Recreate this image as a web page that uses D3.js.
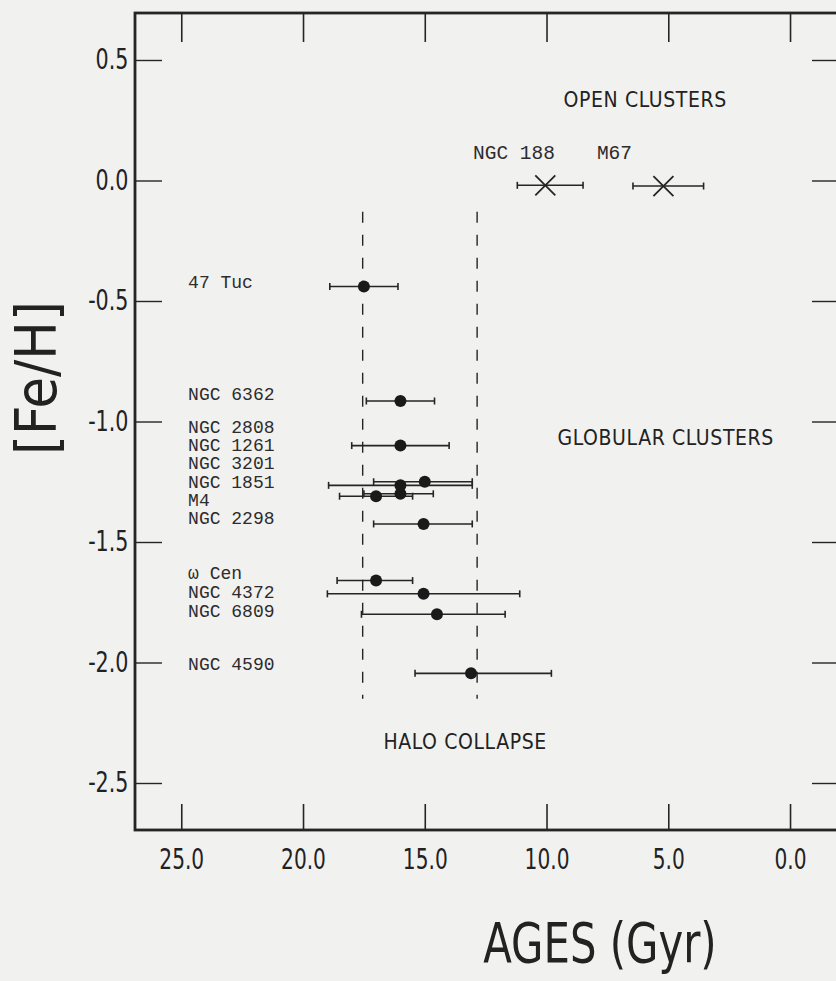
<!DOCTYPE html>
<html lang="en">
  <head>
    <meta charset="UTF-8" />
    <title>Ages vs [Fe/H]</title>
    <style>
      body { margin: 0; background: #f1f1f0; }
      svg { display: block; }
      .cond { font-family: "Liberation Sans Narrow", "DejaVu Sans Condensed", "DejaVu Sans", sans-serif; font-stretch: condensed; fill: #222; }
      .type { font-family: "Liberation Mono", "Courier New", monospace; fill: #2c2c2c; }
    </style>
  </head>
  <body>
    <div id="wrapper"></div>
    <script src="https://d3js.org/d3.v7.min.js"></script>
    <script>
      // tick values
      var xTicks = [25, 20, 15, 10, 5, 0];
      var yTicks = [0.5, 0, -0.5, -1.0, -1.5, -2.0, -2.5];

      // open clusters (X markers): age, [Fe/H], age range
      var openNames = ["NGC 188", "M67"];
      var openAge   = [10.05, 5.2];
      var openFeh   = [-0.02, -0.023];
      var openLo    = [11.2, 6.45];
      var openHi    = [8.5, 3.55];

      // globular clusters (dots)
      var globAge = [17.5, 16.0, 16.0, 15.0, 16.0, 16.0, 17.0, 15.05, 17.0, 15.05, 14.5, 13.1];
      var globFeh = [-0.44, -0.915, -1.10, -1.25, -1.265, -1.30, -1.31, -1.425, -1.66, -1.715, -1.80, -2.045];
      var globLo  = [18.9, 17.4, 18.0, 17.1, 18.95, 17.5, 18.5, 17.1, 18.6, 19.0, 17.6, 15.4];
      var globHi  = [16.1, 14.6, 14.0, 13.05, 13.05, 14.65, 15.5, 13.05, 15.5, 11.1, 11.7, 9.8];

      // cluster name list on the left, with the [Fe/H] level each line sits at
      var globNames = ["47 Tuc", "NGC 6362", "NGC 2808", "NGC 1261", "NGC 3201", "NGC 1851", "M4",
                       "NGC 2298", "\u03c9 Cen", "NGC 4372", "NGC 6809", "NGC 4590"];
      var globNameFeh = [-0.421, -0.886, -1.023, -1.097, -1.172, -1.251, -1.326,
                         -1.400, -1.629, -1.708, -1.783, -2.006];

      // halo collapse limits
      var haloAges = [17.55, 12.85];
      var haloFeh  = [-0.13, -2.15];

      var width = 836, height = 981;

      var x = d3.scaleLinear().domain([26.9, -1.97]).range([135, 838]);
      var y = d3.scaleLinear().domain([0.695, -2.695]).range([13, 830]);

      var svg = d3.select("#wrapper").append("svg")
          .attr("width", width)
          .attr("height", height);

      var ink = "#252525";

      // frame
      svg.append("rect")
          .attr("x", x.range()[0]).attr("y", y.range()[0])
          .attr("width", x.range()[1] - x.range()[0])
          .attr("height", y.range()[1] - y.range()[0])
          .attr("fill", "none").attr("stroke", ink).attr("stroke-width", 2.8);

      // bottom axis ticks (inward) + labels
      var axB = svg.append("g")
          .attr("transform", "translate(0," + y.range()[1] + ")")
          .call(d3.axisBottom(x).tickValues(xTicks).tickSizeInner(-26).tickSizeOuter(0).tickPadding(19)
              .tickFormat(d3.format(".1f")));
      axB.select(".domain").remove();
      axB.selectAll("line").attr("stroke", ink).attr("stroke-width", 1.6);
      axB.selectAll("text").attr("class", "cond").attr("font-size", 28).attr("fill", ink)
          .attr("font-family", null).attr("dy", "0.71em")
          .attr("transform", "scale(0.8,1)");

      // top axis ticks
      var axT = svg.append("g")
          .attr("transform", "translate(0," + y.range()[0] + ")")
          .call(d3.axisTop(x).tickValues(xTicks).tickSizeInner(-29).tickSizeOuter(0).tickFormat(""));
      axT.select(".domain").remove();
      axT.selectAll("line").attr("stroke", ink).attr("stroke-width", 1.6);

      // left axis
      var axL = svg.append("g")
          .attr("transform", "translate(" + x.range()[0] + ",0)")
          .call(d3.axisLeft(y).tickValues(yTicks).tickSizeInner(-27).tickSizeOuter(0).tickPadding(8)
              .tickFormat(d3.format(".1f")));
      axL.select(".domain").remove();
      axL.selectAll("line").attr("stroke", ink).attr("stroke-width", 1.4);
      axL.selectAll("text").attr("class", "cond").attr("font-size", 28).attr("fill", ink)
          .attr("font-family", null)
          .attr("transform", "scale(0.82,1)")
          .text(function (d) { return d3.format(".1f")(d).replace("\u2212", "-"); });

      // right axis ticks
      var axR = svg.append("g")
          .attr("transform", "translate(" + x.range()[1] + ",0)")
          .call(d3.axisRight(y).tickValues(yTicks).tickSizeInner(-26).tickSizeOuter(0).tickFormat(""));
      axR.select(".domain").remove();
      axR.selectAll("line").attr("stroke", ink).attr("stroke-width", 1.4);

      // dashed halo collapse lines
      svg.selectAll(".halo").data(haloAges).enter().append("line")
          .attr("x1", function (d) { return x(d); }).attr("x2", function (d) { return x(d); })
          .attr("y1", y(haloFeh[0])).attr("y2", y(haloFeh[1]))
          .attr("stroke", ink).attr("stroke-width", 1.4)
          .attr("stroke-dasharray", "11,12");

      // error bars helper
      function errBars(ages, fehs, lo, hi) {
        var g = svg.append("g").attr("stroke", ink).attr("stroke-width", 1.6);
        ages.forEach(function (a, i) {
          var yy = y(fehs[i]);
          g.append("line").attr("x1", x(lo[i])).attr("x2", x(hi[i])).attr("y1", yy).attr("y2", yy);
          g.append("line").attr("x1", x(lo[i])).attr("x2", x(lo[i])).attr("y1", yy - 3.5).attr("y2", yy + 3.5);
          g.append("line").attr("x1", x(hi[i])).attr("x2", x(hi[i])).attr("y1", yy - 3.5).attr("y2", yy + 3.5);
        });
      }

      errBars(openAge, openFeh, openLo, openHi);
      errBars(globAge, globFeh, globLo, globHi);

      // X markers for open clusters
      svg.selectAll(".xmark").data(openAge).enter().append("path")
          .attr("d", function (d, i) {
            var cx = x(d), cy = y(openFeh[i]), s = 10;
            return "M" + (cx - s) + "," + (cy - s) + "L" + (cx + s) + "," + (cy + s) +
                   "M" + (cx - s) + "," + (cy + s) + "L" + (cx + s) + "," + (cy - s);
          })
          .attr("stroke", ink).attr("stroke-width", 1.8).attr("fill", "none");

      // dots for globular clusters
      svg.selectAll(".dot").data(globAge).enter().append("circle")
          .attr("cx", function (d) { return x(d); })
          .attr("cy", function (d, i) { return y(globFeh[i]); })
          .attr("r", 6)
          .attr("fill", "#1a1a1a");

      // cluster names
      svg.selectAll(".gname").data(globNames).enter().append("text")
          .attr("class", "type")
          .attr("x", x(24.72))
          .attr("y", function (d, i) { return y(globNameFeh[i]); })
          .attr("dy", "0.35em")
          .attr("font-size", 18)
          .text(function (d) { return d; });

      var openLabelAge = [13.02, 7.93];
      var openLabelFeh = [0.118, 0.118];
      svg.selectAll(".oname").data(openNames).enter().append("text")
          .attr("class", "type")
          .attr("x", function (d, i) { return x(openLabelAge[i]); })
          .attr("y", function (d, i) { return y(openLabelFeh[i]); })
          .attr("dy", "0.35em")
          .attr("font-size", 19.5)
          .text(function (d) { return d; });

      // region labels
      var regionNames = ["OPEN CLUSTERS", "GLOBULAR CLUSTERS", "HALO COLLAPSE"];
      var regionAge = [9.3, 9.55, 16.7];
      var regionFeh = [0.335, -1.065, -2.33];
      svg.selectAll(".region").data(regionNames).enter().append("text")
          .attr("class", "cond")
          .attr("x", function (d, i) { return x(regionAge[i]); })
          .attr("y", function (d, i) { return y(regionFeh[i]); })
          .attr("dy", "0.35em")
          .attr("font-size", 21)
          .attr("letter-spacing", 0.6)
          .text(function (d) { return d; });

      // axis titles
      svg.append("text")
          .attr("class", "cond")
          .attr("transform", "translate(56,378) rotate(-90)")
          .attr("text-anchor", "middle")
          .attr("font-size", 57)
          .text("[Fe/H]");

      svg.append("text")
          .attr("class", "cond")
          .attr("transform", "translate(600,962) scale(0.83,1)")
          .attr("text-anchor", "middle")
          .attr("font-size", 56)
          .text("AGES (Gyr)");
    </script>
  </body>
</html>
